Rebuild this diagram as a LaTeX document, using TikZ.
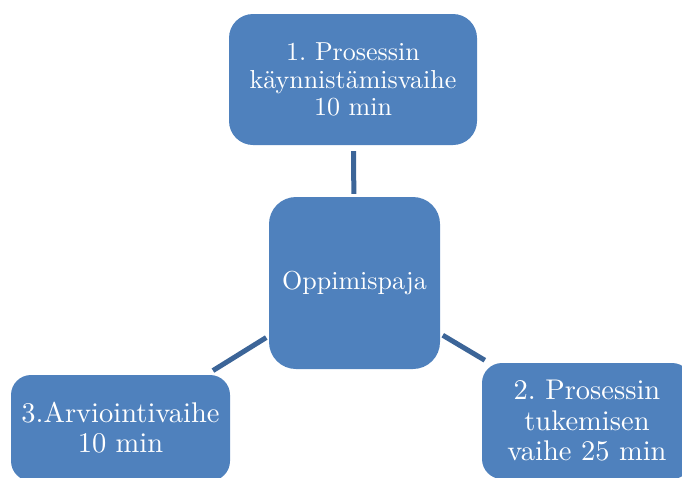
\documentclass[tikz,border=0pt]{standalone}
\usepackage{fontspec}
\setmainfont{lmroman10-regular}[Extension=.otf]
\usepackage{tikz}
\definecolor{boxblue}{HTML}{4F81BD}
\definecolor{linkblue}{HTML}{3C6598}
\tikzset{phase/.style={fill=boxblue, text=white, rounded corners=24pt, align=center, inner sep=0pt},
  link/.style={draw=linkblue, line width=5pt}}
\frenchspacing

\begin{document}
\begin{tikzpicture}[x=1pt,y=-1pt]
  % Define variables
  \pgfmathsetmacro{\topsize}{26}  % top box and hub
  \pgfmathsetmacro{\lowsize}{28.5}  % lower boxes
  \useasboundingbox (0,0) rectangle (682,477);
  \clip (0,0) rectangle (682,477);

  % Draw boxes
  \node[phase, minimum width=248pt, minimum height=131pt, font=\fontsize{\topsize}{27.5}\selectfont] (start) at (353,79.5) {1. Prosessin\\käynnistämisvaihe\\10 min};
  \node[phase, minimum width=171pt, minimum height=172pt, rounded corners=27pt, font=\fontsize{\topsize}{27.5}\selectfont] (hub) at (354.5,283) {Oppimispaja};
  \node[phase, minimum width=219pt, minimum height=106pt, rounded corners=20pt, font=\fontsize{\lowsize}{30}\selectfont] (review) at (120.5,428) {3.Arviointivaihe\\10 min};
  \node[phase, minimum width=210pt, minimum height=116pt, rounded corners=20pt, font=\fontsize{\lowsize}{30.5}\selectfont] (support) at (587,421) {2. Prosessin\\tukemisen\\vaihe 25 min};

  % Draw links
  \draw[link, shorten <=6pt, shorten >=3pt] (start) -- (hub);
  \draw[link, shorten <=3pt, shorten >=8pt] (hub) -- (review);
  \draw[link, shorten <=3pt, shorten >=5pt] (hub) -- (support);
\end{tikzpicture}
\end{document}
